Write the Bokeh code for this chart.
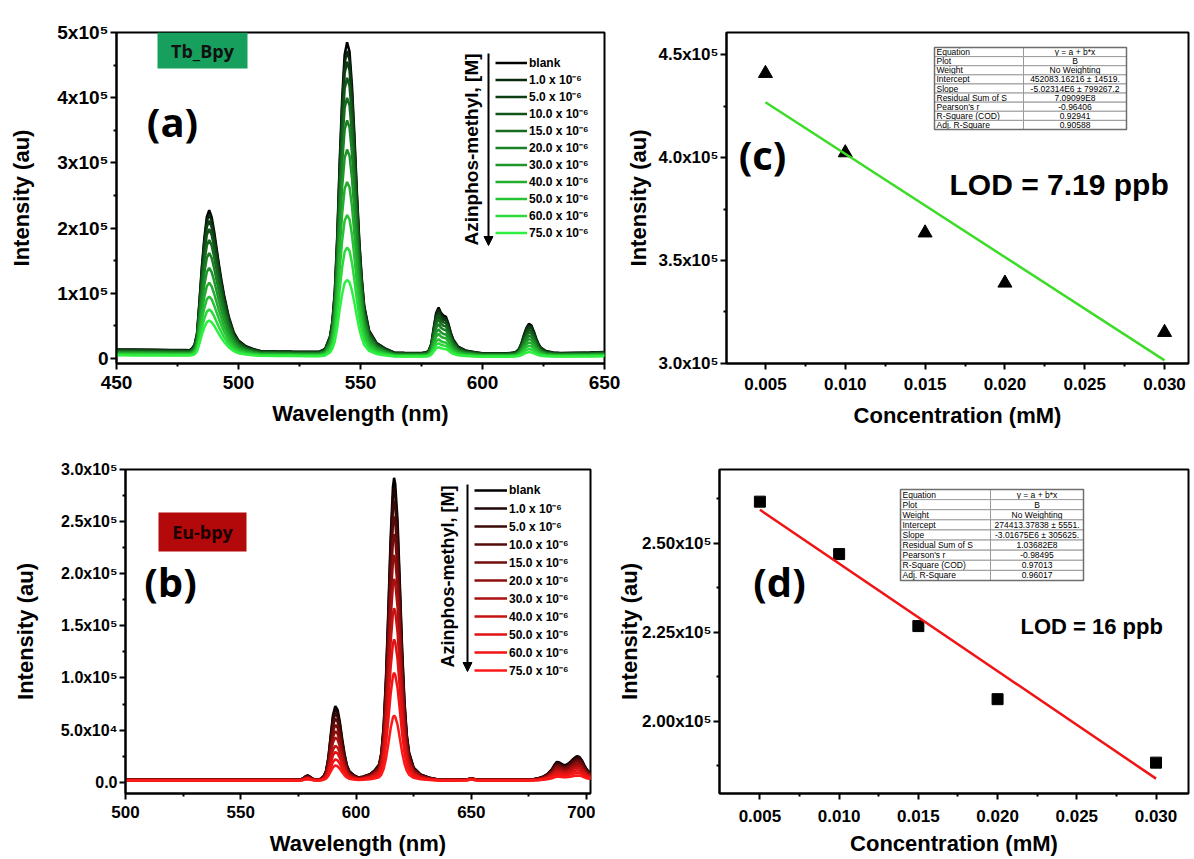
import math
from bokeh.plotting import figure
from bokeh.layouts import column, row
from bokeh.models import (FixedTicker, Legend, LegendItem, Label, Arrow, NormalHead,
                          BoxAnnotation, Range1d)
from bokeh.embed import file_html
from bokeh.resources import INLINE

# ======================= DATA =======================
conc_labels = ["blank", "1.0 x 10\u207b\u2076", "5.0 x 10\u207b\u2076", "10.0 x 10\u207b\u2076",
               "15.0 x 10\u207b\u2076", "20.0 x 10\u207b\u2076", "30.0 x 10\u207b\u2076",
               "40.0 x 10\u207b\u2076", "50.0 x 10\u207b\u2076", "60.0 x 10\u207b\u2076",
               "75.0 x 10\u207b\u2076"]
tb_colors = ["#000000", "#0a2a0e", "#0e3f14", "#125519", "#166b1f", "#1a8124",
             "#1e972a", "#22ad2f", "#26c334", "#2ad93a", "#2ef040"]
eu_colors = ["#000000", "#1e0505", "#3a0808", "#560a0a", "#720c0c", "#8e0e0e",
             "#aa1010", "#c61212", "#e01313", "#f21414", "#ff1818"]

# --- (a) Tb_Bpy emission spectra: wavelength grid, peak membership, peak profile, baseline profile
tb_wl = [450, 458, 466, 472, 478, 480,
         481, 482, 483, 484, 485, 486, 487, 488, 489, 490, 491, 492, 493, 494, 496, 498, 500, 503, 506,
         509, 515, 522, 528, 533,
         535.5, 537.5, 538.5, 539.5, 540.5, 541.5, 542.5, 543.5, 544.5, 545.5, 546.5, 547.5, 548.5,
         549.5, 550.5, 551.5, 553.5, 556.5, 560.5,
         564, 568, 572, 575,
         577, 578, 579, 580, 581, 582, 583, 584, 585, 586, 587, 588, 590, 593, 597,
         600, 605, 610,
         613, 614, 615, 616, 617, 618, 619, 620, 621, 622, 623, 624, 626, 629,
         632, 638, 644, 650]
tb_peak_index = [-1] * 6 + [0] * 19 + [-1] * 5 + [1] * 19 + [-1] * 4 + [2] * 15 + [-1] * 3 + [3] * 14 + [-1] * 4
tb_shape = ([0] * 6 +
            [0.015, 0.04, 0.12, 0.35, 0.60, 0.80, 0.95, 1.0, 0.95, 0.85, 0.73, 0.61, 0.50, 0.40, 0.24,
             0.13, 0.07, 0.03, 0.01] +
            [0] * 5 +
            [0.01, 0.05, 0.10, 0.20, 0.38, 0.62, 0.82, 0.96, 1.0, 0.97, 0.86, 0.70, 0.52, 0.36, 0.24,
             0.15, 0.07, 0.03, 0.01] +
            [0] * 4 +
            [0.02, 0.06, 0.20, 0.55, 0.88, 1.0, 0.88, 0.82, 0.80, 0.65, 0.45, 0.30, 0.14, 0.06, 0.02] +
            [0] * 3 +
            [0.02, 0.06, 0.15, 0.35, 0.62, 0.86, 1.0, 0.95, 0.75, 0.50, 0.30, 0.18, 0.07, 0.02] +
            [0] * 4)
tb_base_shape = ([1.0, 0.99, 0.97, 0.95, 0.93, 0.92] + [0.9] * 19 + [0.84, 0.81, 0.78, 0.76, 0.75] +
                 [0.72] * 19 + [0.65, 0.63, 0.62, 0.62] + [0.6] * 15 + [0.58, 0.58, 0.58] +
                 [0.6] * 14 + [0.62, 0.65, 0.68, 0.72])
tb_base_level = [14000, 13500, 12800, 12000, 11000, 10000, 9000, 8000, 7000, 6000, 5000]
tb_peak_488 = [215000, 209000, 200000, 188000, 172000, 153000, 131000, 109000, 89000, 70000, 54000]
tb_peak_544 = [475000, 462000, 446000, 422000, 392000, 358000, 314000, 265000, 215000, 166000, 117000]
tb_peak_582 = [70000, 67000, 63500, 59000, 53500, 47000, 39500, 33000, 25500, 20000, 14500]
tb_peak_620 = [45000, 43000, 40500, 37000, 33500, 29000, 24500, 20000, 15500, 11000, 7000]

# --- (b) Eu-bpy emission spectra
eu_wl = [500, 510, 520, 530, 540, 550, 560, 570, 574,
         576, 577, 578, 579, 580, 581, 582,
         584,
         585, 586, 587, 588, 589, 590, 591, 592, 593, 594, 595, 596, 597, 599, 601,
         603, 606, 608, 610, 611, 612, 613, 614, 615, 616, 616.5, 617, 618, 619, 620, 621, 622, 623,
         625, 628, 632,
         636, 642, 648, 650, 652, 656, 662, 668, 672, 675,
         677, 679, 681, 683, 685, 686, 687, 688, 689, 690, 691, 692, 693, 694, 695, 696, 697, 698,
         699, 700, 701, 702]
eu_peak_index = [-1] * 9 + [0] * 7 + [-1] + [1] * 15 + [2] * 21 + [-1] * 10 + [3] * 22
eu_shape = ([0] * 9 +
            [0.05, 0.3, 0.75, 1.0, 0.7, 0.3, 0.08] +
            [0] +
            [0.02, 0.05, 0.12, 0.30, 0.60, 0.88, 1.0, 0.95, 0.78, 0.55, 0.35, 0.20, 0.12, 0.06, 0.03] +
            [0.01, 0.018, 0.03, 0.05, 0.09, 0.18, 0.34, 0.56, 0.80, 0.97, 1.0, 0.98, 0.86, 0.65, 0.43,
             0.26, 0.15, 0.09, 0.04, 0.017, 0.006] +
            [0] * 10 +
            [0.02, 0.06, 0.12, 0.24, 0.45, 0.62, 0.75, 0.74, 0.68, 0.62, 0.62, 0.68, 0.76, 0.86, 0.95,
             1.0, 0.96, 0.82, 0.62, 0.45, 0.33, 0.27])
eu_base_shape = ([1.0] * 53 + [1.0, 1.0, 1.1, 1.5, 1.1, 1.0, 1.0, 1.0, 1.0, 1.0] + [1.0] * 22)
eu_base_level = [2500, 2450, 2400, 2350, 2300, 2200, 2100, 2000, 1900, 1800, 1700]
eu_peak_579 = [4000, 3800, 3600, 3300, 3000, 2700, 2400, 2100, 1800, 1500, 1200]
eu_peak_592 = [70500, 67600, 63600, 58700, 52700, 46800, 40900, 33000, 27100, 20200, 14300]
eu_peak_616 = [289500, 279500, 267600, 252600, 235700, 215800, 192900, 165000, 135100, 103200, 62300]
eu_peak_696 = [22500, 21600, 20600, 19200, 17700, 15800, 13900, 11900, 9600, 7200, 4800]

# --- (c) / (d) calibration
conc_mM = [0.005, 0.010, 0.015, 0.020, 0.030]
tb_intensity = [441000, 402400, 363400, 339000, 315000]
eu_intensity = [261600, 246900, 226700, 206200, 188400]
tb_fit_intercept, tb_fit_slope = 452083.16216, -5.02314e6
eu_fit_intercept, eu_fit_slope = 274413.37838, -3.01675e6
fit_x = [0.005, 0.030]

tb_table = [("Equation", "y = a + b*x"), ("Plot", "B"), ("Weight", "No Weighting"),
            ("Intercept", "452083.16216 \u00b1 14519."), ("Slope", "-5.02314E6 \u00b1 799267.2"),
            ("Residual Sum of S", "7.09099E8"), ("Pearson's r", "-0.96406"),
            ("R-Square (COD)", "0.92941"), ("Adj. R-Square", "0.90588")]
eu_table = [("Equation", "y = a + b*x"), ("Plot", "B"), ("Weight", "No Weighting"),
            ("Intercept", "274413.37838 \u00b1 5551."), ("Slope", "-3.01675E6 \u00b1 305625."),
            ("Residual Sum of S", "1.03682E8"), ("Pearson's r", "-0.98495"),
            ("R-Square (COD)", "0.97013"), ("Adj. R-Square", "0.96017")]

# ticks and tick labels
a_xticks = [450, 500, 550, 600, 650]
a_xlabels = ["450", "500", "550", "600", "650"]
a_yticks = [0, 100000, 200000, 300000, 400000, 500000]
a_ylabels = ["0", "1x10\u2075", "2x10\u2075", "3x10\u2075", "4x10\u2075", "5x10\u2075"]
b_xticks = [500, 550, 600, 650, 700]
b_xlabels = ["500", "550", "600", "650", "700"]
b_yticks = [0, 50000, 100000, 150000, 200000, 250000, 300000]
b_ylabels = ["0.0", "5.0x10\u2074", "1.0x10\u2075", "1.5x10\u2075", "2.0x10\u2075", "2.5x10\u2075", "3.0x10\u2075"]
cd_xticks = [0.005, 0.010, 0.015, 0.020, 0.025, 0.030]
cd_xlabels = ["0.005", "0.010", "0.015", "0.020", "0.025", "0.030"]
c_yticks = [300000, 350000, 400000, 450000]
c_ylabels = ["3.0x10\u2075", "3.5x10\u2075", "4.0x10\u2075", "4.5x10\u2075"]
d_yticks = [200000, 225000, 250000]
d_ylabels = ["2.00x10\u2075", "2.25x10\u2075", "2.50x10\u2075"]

FONT = "Liberation Sans"


def build_spectra(shape, peak_index, base_shape, base_level, peaks):
    out = []
    for i, b in enumerate(base_level):
        hs = [p[i] for p in peaks]
        out.append([b * bs + (hs[k] * s if k >= 0 else 0.0)
                    for s, k, bs in zip(shape, peak_index, base_shape)])
    return out


def make_fig(w, h, xr, yr, bl, br, bt, bb):
    p = figure(width=w, height=h, x_range=Range1d(*xr), y_range=Range1d(*yr),
               output_backend="svg", toolbar_location=None, title_location=None,
               min_border_left=bl, min_border_right=br, min_border_top=bt, min_border_bottom=bb)
    p.outline_line_color = "black"
    p.outline_line_width = 2
    p.outline_line_alpha = 1
    p.xgrid.visible = False
    p.ygrid.visible = False
    p.background_fill_color = "white"
    p.border_fill_color = "white"
    return p


def style_axes(p, xt, xl, xminor, yt, yl, yminor, xfs, yfs, xlabel, ylabel,
               xlab_stand, ylab_stand, xtick_stand, ytick_stand):
    p.xaxis.ticker = FixedTicker(ticks=xt, minor_ticks=xminor)
    p.yaxis.ticker = FixedTicker(ticks=yt, minor_ticks=yminor)
    p.xaxis.major_label_overrides = dict(zip(xt, xl))
    p.yaxis.major_label_overrides = dict(zip(yt, yl))
    p.xaxis.axis_label = xlabel
    p.yaxis.axis_label = ylabel
    for ax, fs, st, ts in ((p.xaxis[0], xfs, xlab_stand, xtick_stand),
                           (p.yaxis[0], yfs, ylab_stand, ytick_stand)):
        ax.axis_line_width = 2
        ax.major_tick_line_width = 2
        ax.minor_tick_line_width = 2
        ax.major_tick_out = 6
        ax.major_tick_in = 0
        ax.minor_tick_out = 3
        ax.minor_tick_in = 0
        ax.major_label_standoff = ts
        ax.major_label_text_font = FONT
        ax.major_label_text_font_style = "bold"
        ax.major_label_text_font_size = fs
        ax.major_label_text_color = "black"
        ax.axis_label_text_font = FONT
        ax.axis_label_text_font_style = "bold"
        ax.axis_label_text_font_size = "22px"
        ax.axis_label_text_color = "black"
        ax.axis_label_standoff = st


def add_label(p, x, y, text, size, font=FONT, style="bold", align="center", baseline="middle",
              angle=0.0, color="black"):
    p.add_layout(Label(x=x, y=y, x_units="screen", y_units="screen", text=text,
                       text_font=font, text_font_size=size, text_font_style=style,
                       text_align=align, text_baseline=baseline, angle=angle, text_color=color))


def add_box(p, left, right, top, bottom, fill, line_color=None, line_width=1):
    p.add_layout(BoxAnnotation(left=left, right=right, top=top, bottom=bottom,
                               left_units="screen", right_units="screen",
                               top_units="screen", bottom_units="screen",
                               fill_color=fill, fill_alpha=1 if fill else 0,
                               line_color=line_color, line_alpha=1, line_width=line_width))


def add_table(p, rows, left, split, right, top, bottom, fs):
    n = len(rows)
    rh = (top - bottom) / n
    for i, (k, v) in enumerate(rows):
        t = top - i * rh
        b = t - rh
        add_box(p, left, split, t, b, "white", "#9a9a9a", 1)
        add_box(p, split, right, t, b, "white", "#9a9a9a", 1)
        add_label(p, left + 2, (t + b) / 2, k, fs, style="normal", align="left")
        add_label(p, (split + right) / 2, (t + b) / 2, v, fs, style="normal")
    add_box(p, left, right, top, bottom, None, "#6e6e6e", 1.5)


def add_conc_legend(p, renderers, loc, gw, gh, title_xy, title_size, arrow_x, arrow_top, arrow_bot):
    items = [LegendItem(label=lab, renderers=[r]) for lab, r in zip(conc_labels, renderers)]
    leg = Legend(items=items, location=loc, orientation="vertical", padding=0, margin=0, spacing=0,
                 glyph_width=gw, glyph_height=gh, label_height=gh, label_standoff=2,
                 label_text_font=FONT, label_text_font_style="bold", label_text_font_size="12px",
                 label_text_color="black", border_line_color=None, background_fill_alpha=0)
    p.add_layout(leg)
    add_label(p, title_xy[0], title_xy[1], "Azinphos-methyl, [M]", title_size, angle=math.pi / 2)
    p.add_layout(Arrow(end=NormalHead(size=9, fill_color="black", line_color="black"),
                       x_start=arrow_x, y_start=arrow_top, x_end=arrow_x, y_end=arrow_bot,
                       start_units="screen", end_units="screen", line_color="black", line_width=2))


# ======================= (a) =======================
pa = make_fig(622, 430, (450, 650), (-7500, 500000), 116, 18, 28, 63)
style_axes(pa, a_xticks, a_xlabels, [475, 525, 575, 625], a_yticks, a_ylabels,
           [50000, 150000, 250000, 350000, 450000], "19px", "19px",
           "Wavelength (nm)", "Intensity (au)", 9, 20, 6, 2)
tb_curves = build_spectra(tb_shape, tb_peak_index, tb_base_shape, tb_base_level,
                          [tb_peak_488, tb_peak_544, tb_peak_582, tb_peak_620])
ra = [pa.line(tb_wl, y, line_color=c, line_width=2.5) for y, c in zip(tb_curves, tb_colors)]
add_box(pa, 41, 131, 331, 295, "#17a05d")
add_label(pa, 86, 313, "Tb_Bpy", "18px", font="Open Sans", color="#111111")
add_label(pa, 56, 242, "(a)", "40px", font="Open Sans")
add_conc_legend(pa, ra, (379, 122), 32, 17, (355, 214), "19px", 372, 310, 118)

# ======================= (c) =======================
pc = make_fig(568, 430, (0.00256, 0.0315), (299860, 460900), 103, 2, 32, 64)
style_axes(pc, cd_xticks, cd_xlabels, [0.0075, 0.0125, 0.0175, 0.0225, 0.0275], c_yticks, c_ylabels,
           [325000, 375000, 425000], "17px", "17px", "Concentration (mM)", "Intensity (au)", 10, 5, 8, 2)
pc.scatter(conc_mM, tb_intensity, marker="triangle", size=14, fill_color="black", line_color="black")
pc.line(fit_x, [tb_fit_intercept + tb_fit_slope * x for x in fit_x], line_color="#3cdc28", line_width=2.5)
add_label(pc, 36, 209, "(c)", "40px", font="Open Sans")
add_label(pc, 223, 179, "LOD = 7.19 ppb", "30px", align="left", baseline="alphabetic")
add_table(pc, tb_table, 208, 297, 400, 316, 234, "8.5px")

# ======================= (b) =======================
pb = make_fig(595, 428, (500, 701.7), (-10800, 300000), 125, 5, 39, 64)
style_axes(pb, b_xticks, b_xlabels, [525, 575, 625, 675], b_yticks, b_ylabels,
           [25000, 75000, 125000, 175000, 225000, 275000], "17px", "16px",
           "Wavelength (nm)", "Intensity (au)", 10, 20, 6, 2)
eu_curves = build_spectra(eu_shape, eu_peak_index, eu_base_shape, eu_base_level,
                          [eu_peak_579, eu_peak_592, eu_peak_616, eu_peak_696])
rb = [pb.line(eu_wl, y, line_color=c, line_width=2.5) for y, c in zip(eu_curves, eu_colors)]
add_box(pb, 33, 121, 281, 242, "#b4090b")
add_label(pb, 77, 261.5, "Eu-bpy", "18px", font="Open Sans", color="#1a0000")
add_label(pb, 45, 212, "(b)", "40px", font="Open Sans")
add_conc_legend(pb, rb, (349, 114), 33, 18, (322, 217), "18px", 342, 309, 122)

# ======================= (d) =======================
pd_ = make_fig(595, 428, (0.00245, 0.03205), (179740, 270620), 124, 2, 33, 63)
style_axes(pd_, cd_xticks, cd_xlabels, [0.0075, 0.0125, 0.0175, 0.0225, 0.0275], d_yticks, d_ylabels,
           [187500, 212500, 237500, 262500], "17px", "17px", "Concentration (mM)", "Intensity (au)",
           6, -3, 10, 2)
pd_.scatter(conc_mM, eu_intensity, marker="square", size=11, fill_color="black", line_color="black")
pd_.line(fit_x, [eu_fit_intercept + eu_fit_slope * x for x in fit_x], line_color="#f01414", line_width=2.5)
add_label(pd_, 60, 212, "(d)", "40px", font="Open Sans")
add_label(pd_, 301, 167, "LOD = 16 ppb", "22px", align="left", baseline="alphabetic")
add_table(pd_, eu_table, 181, 271, 364, 304, 213, "8.5px")

layout = column(row(pa, pc), row(pb, pd_))
open("out.html", "w").write(file_html(layout, INLINE))
